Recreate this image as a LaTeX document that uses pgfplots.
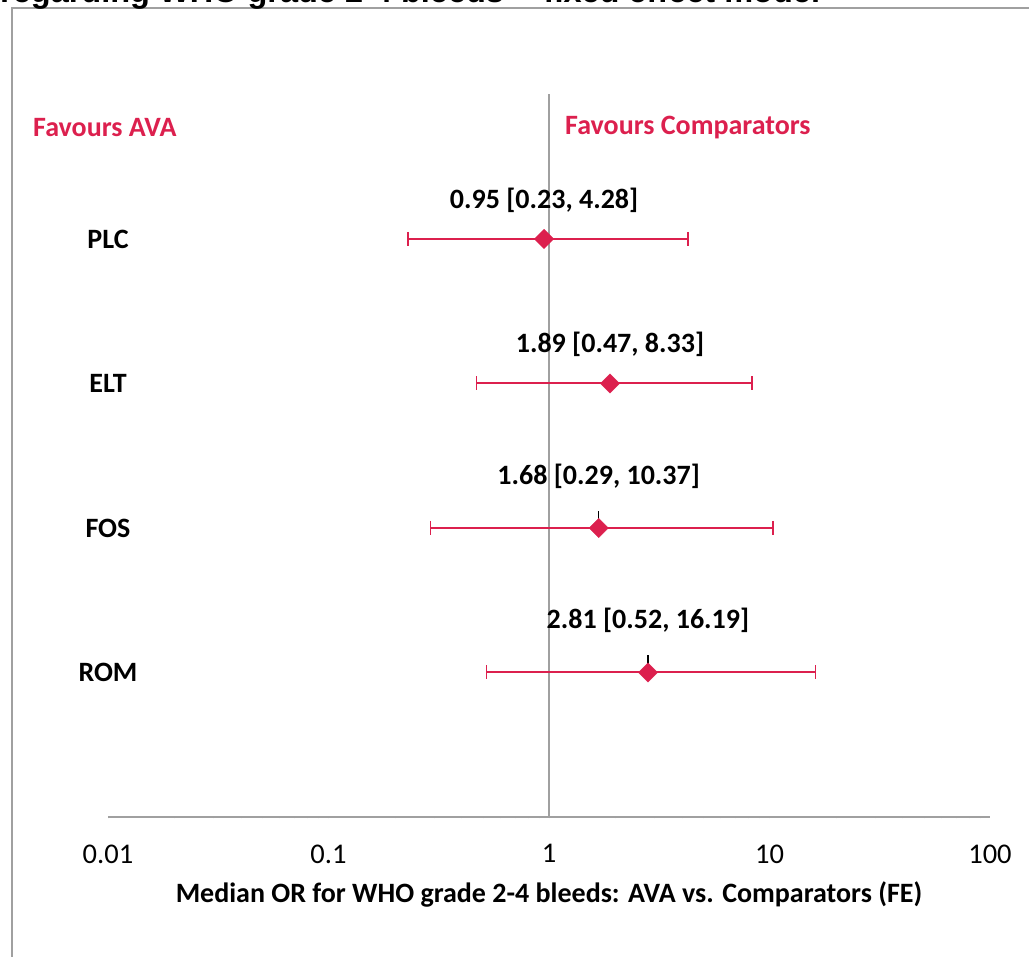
\documentclass[border=0pt]{standalone}
\usepackage{pgfplots}
\pgfplotsset{compat=1.18}
\usepackage{fontspec}
\setmainfont{Carlito}
\newfontfamily\arialfont{Liberation Sans}
\definecolor{cr}{RGB}{220,32,78}
\definecolor{gl}{RGB}{160,160,160}
\begin{document}
\begin{tikzpicture}[x=1pt,y=1pt]
\useasboundingbox (0,0) rectangle (1029,957);
\draw[gl, line width=1.2pt] (12,-20) -- (12,949) -- (1060,949);
\node[anchor=base west, inner sep=0pt, font=\arialfont\bfseries\fontsize{32.5}{38}\selectfont] at (0,954) {regarding WHO grade 2-4 bleeds -- fixed effect model};
\begin{axis}[
  at={(108pt,140pt)}, anchor=south west, scale only axis,
  width=882pt, height=722.5pt,
  xmode=log, xmin=0.01, xmax=100, ymin=0, ymax=5,
  axis x line=bottom, axis y line=none,
  axis line style={gl, line width=1.2pt, -},
  xtick={0.01,0.1,1,10,100},
  xticklabels={0.01,0.1,1,10,100},
  major tick length=0pt,
  xticklabel style={font=\fontsize{28.5}{34}\selectfont, yshift=-24pt},
  xlabel={\textbf{Median OR for WHO grade 2-4 bleeds: AVA vs. Comparators (FE)}},
  xlabel style={font=\fontsize{28}{34}\selectfont, yshift=-12pt},
  clip=false,
]
\addplot[gl, line width=1.2pt] coordinates {(1,0) (1,5)};
% CI lines
\addplot[cr, line width=2pt, mark=|, mark size=7pt, mark options={line width=1.6pt}] coordinates {(0.23,4) (4.28,4)};
\addplot[cr, line width=2pt, mark=|, mark size=7pt, mark options={line width=1.6pt}] coordinates {(0.47,3) (8.33,3)};
\addplot[cr, line width=2pt, mark=|, mark size=7pt, mark options={line width=1.6pt}] coordinates {(0.29,2) (10.37,2)};
\addplot[cr, line width=2pt, mark=|, mark size=7pt, mark options={line width=1.6pt}] coordinates {(0.52,1) (16.19,1)};
% small black ticks
\addplot[black, line width=1.2pt] coordinates {(1.68,2) (1.68,2.12)};
\addplot[black, line width=1.2pt] coordinates {(2.81,1) (2.81,1.12)};
% diamonds
\addplot[only marks, mark=square*, mark size=6.8pt, mark options={rotate=45, fill=cr, draw=cr}] coordinates {(0.95,4) (1.89,3) (1.68,2) (2.81,1)};
% value labels
\node[font=\bfseries\fontsize{28}{34}\selectfont] at (axis cs:0.95,4.27) {0.95 [0.23, 4.28]};
\node[font=\bfseries\fontsize{28}{34}\selectfont] at (axis cs:1.89,3.27) {1.89 [0.47, 8.33]};
\node[font=\bfseries\fontsize{28}{34}\selectfont] at (axis cs:1.68,2.36) {1.68 [0.29, 10.37]};
\node[font=\bfseries\fontsize{28}{34}\selectfont] at (axis cs:2.81,1.36) {2.81 [0.52, 16.19]};
% category labels
\node[font=\bfseries\fontsize{28}{34}\selectfont] at (axis cs:0.01,4) {PLC};
\node[font=\bfseries\fontsize{28}{34}\selectfont] at (axis cs:0.01,3) {ELT};
\node[font=\bfseries\fontsize{28}{34}\selectfont] at (axis cs:0.01,2) {FOS};
\node[font=\bfseries\fontsize{28}{34}\selectfont] at (axis cs:0.01,1) {ROM};
\end{axis}
\node[anchor=west, inner sep=0pt, text=cr, font=\bfseries\fontsize{28}{34}\selectfont] at (33,829) {Favours AVA};
\node[anchor=west, inner sep=0pt, text=cr, font=\bfseries\fontsize{28}{34}\selectfont] at (565,829) {Favours Comparators};
\end{tikzpicture}
\end{document}
